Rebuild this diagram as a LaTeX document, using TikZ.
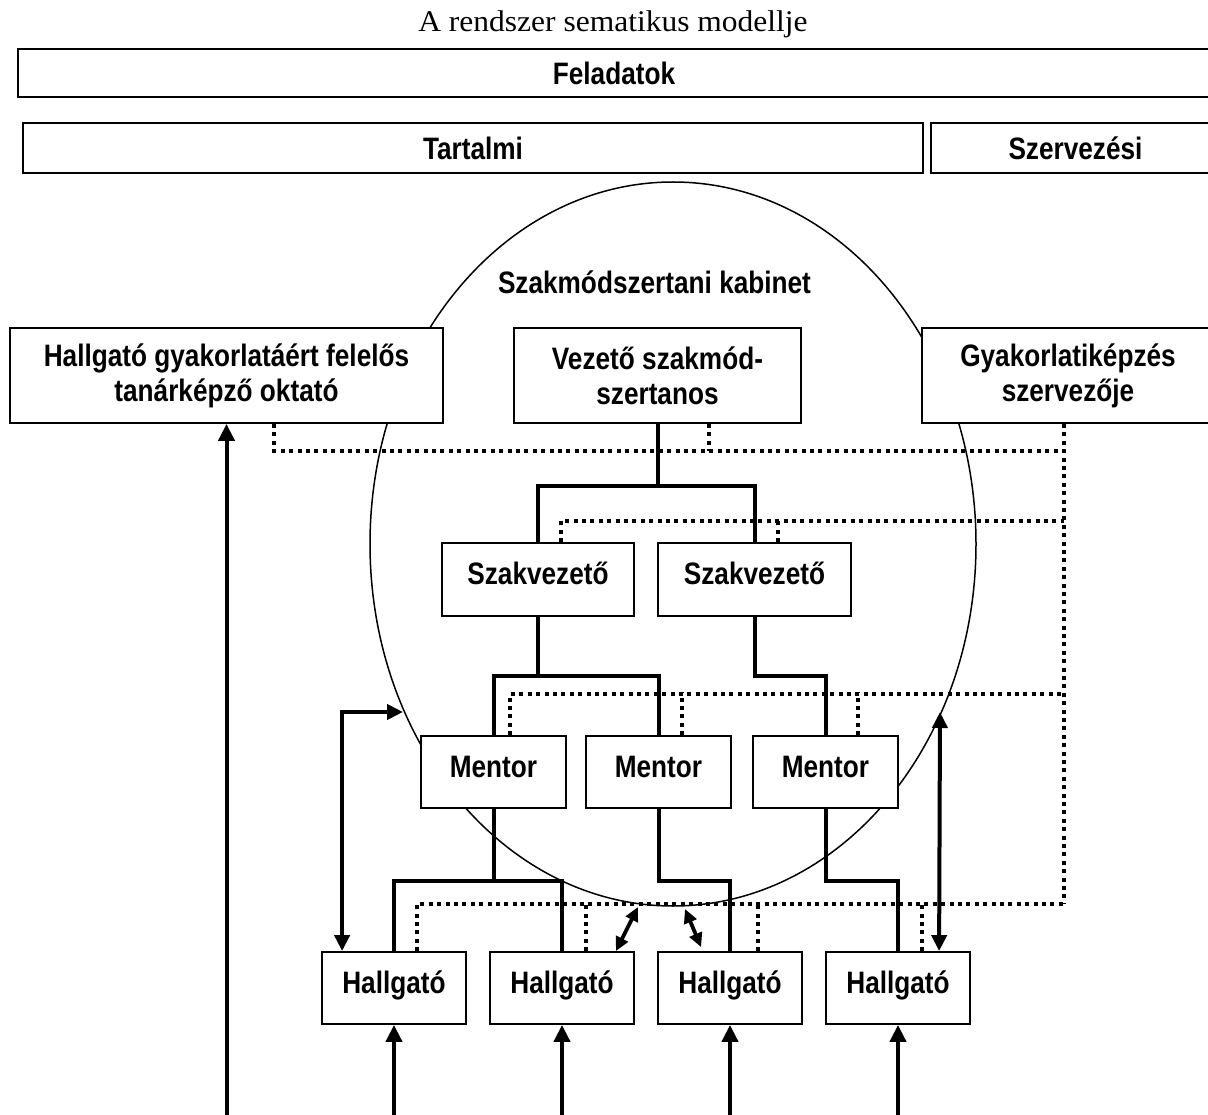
\documentclass[tikz,border=0pt]{standalone}
\usepackage{fontspec}
\setmainfont{Liberation Serif}
\newfontfamily\labfont{Liberation Sans}[FakeStretch=0.845]
\newfontfamily\titfont{Liberation Serif}[FakeStretch=1.05]
\usetikzlibrary{arrows.meta,calc}
\begin{document}
\begin{tikzpicture}[x=1pt,y=-1pt,
  lab/.style={font=\labfont\bfseries\fontsize{31pt}{35pt}\selectfont},
  box/.style={lab,draw,line width=1.8pt,fill=white,inner sep=0pt,align=center},
  topbox/.style={lab,draw,line width=2.6pt,fill=white,inner sep=0pt},
  one/.style={text height=22pt,text depth=12pt},
  tree/.style={line width=4pt},
  dots/.style={line width=3.6pt,dash pattern=on 4pt off 4.4pt},
  arr/.style={line width=4pt,-{Triangle[length=17pt,width=16pt]}},
  dbl/.style={line width=4pt,{Triangle[length=16pt,width=15pt]}-{Triangle[length=16pt,width=15pt]}},
  sdbl/.style={line width=3.8pt,{Triangle[length=14pt,width=13pt]}-{Triangle[length=14pt,width=13pt]}}]
\useasboundingbox (0,0) rectangle (1208,1115);

\node[font=\titfont\fontsize{30pt}{34pt}\selectfont,anchor=base,inner sep=0pt] (title) at (613,32) {A rendszer sematikus modellje};

\node[topbox,minimum width=1192,minimum height=48] (fel) at (614,73) {Feladatok};
\node[topbox,minimum width=900,minimum height=50] (tar) at (473,148) {Tartalmi};
\node[topbox,minimum width=289,minimum height=50] (szerv) at (1075.5,148) {Szervezési};

% kabinet
\draw[line width=1.5pt] (673,544) ellipse [x radius=303, y radius=362];
\node[lab] (kab) at (654.5,282) {Szakmódszertani kabinet};

\node[box,minimum width=433,minimum height=95] (hf) at (226.5,375.5) {Hallgató gyakorlatáért felelős\\tanárképző oktató};
\node[box,minimum width=287,minimum height=95] (vez) at (657.5,375.5) {Vezető szakmód-\\szertanos};
\node[box,minimum width=292,minimum height=95] (gysz) at (1068,375.5) {Gyakorlatiképzés\\szervezője};

\node[box,one,minimum width=192,minimum height=73] (sv1) at (538,579.5) {Szakvezető};
\node[box,one,minimum width=193,minimum height=73] (sv2) at (754.5,579.5) {Szakvezető};

\node[box,one,minimum width=145,minimum height=72] (m1) at (493.5,772) {Mentor};
\node[box,one,minimum width=145,minimum height=72] (m2) at (658.5,772) {Mentor};
\node[box,one,minimum width=145,minimum height=72] (m3) at (825.5,772) {Mentor};

\node[box,one,minimum width=144,minimum height=72] (h1) at (394,988) {Hallgató};
\node[box,one,minimum width=144,minimum height=72] (h2) at (562,988) {Hallgató};
\node[box,one,minimum width=144,minimum height=72] (h3) at (730,988) {Hallgató};
\node[box,one,minimum width=144,minimum height=72] (h4) at (898,988) {Hallgató};

% tree
\draw[tree] (vez.south) -- ++(0,62);
\draw[tree] (sv1.north) |- ($(vez.south)+(0,62)$) -| (sv2.north);
\draw[tree] (sv1.south) -- ++(0,59);
\draw[tree] (m1.north) |- ($(sv1.south)+(0,59)$) -| (m2.north);
\draw[tree] (sv2.south) -- ++(0,59) -| (m3.north);
\draw[tree] (m1.south) -- ++(0,72);
\draw[tree] (h1.north) |- ($(m1.south)+(0,72)$) -| (h2.north);
\draw[tree] (m2.south) -- ++(0,72) -| (h3.north);
\draw[tree] (m3.south) -- ++(0,72) -| (h4.north);

% dotted organisation lines
\draw[dots] ($(gysz.south west)+(143,0)$) -- ++(0,480);
\draw[dots] ($(hf.south west)+(265,0)$) |- ($(gysz.south west)+(143,27)$);
\draw[dots] ($(vez.south west)+(196,0)$) -- ++(0,27);
\draw[dots] ($(sv1.north west)+(120,0)$) |- ($(gysz.south west)+(143,97)$);
\draw[dots] ($(sv2.north west)+(121,0)$) -- ++(0,-23);
\draw[dots] ($(m1.north west)+(90,0)$) |- ($(gysz.south west)+(143,270)$);
\draw[dots] ($(m2.north west)+(97,0)$) -- ++(0,-43);
\draw[dots] ($(m3.north west)+(106,0)$) -- ++(0,-43);
\draw[dots] ($(h1.north west)+(96,0)$) |- ($(gysz.south west)+(143,480)$);
\draw[dots] ($(h2.north west)+(97,0)$) -- ++(0,-49);
\draw[dots] ($(h3.north west)+(101,0)$) -- ++(0,-49);
\draw[dots] ($(h4.north west)+(97,0)$) -- ++(0,-49);

% arrows
\draw[arr] ($(hf.south)+(0,700)$) -- (hf.south);
\foreach \h in {h1,h2,h3,h4} {\draw[arr] ($(\h.south)+(0,100)$) -- (\h.south);}
\coordinate (lt) at (403,712);
\draw[dbl] (lt) -| ($(h1.north west)+(21,0)$);
\coordinate (rt) at (940,712);
\draw[dbl] (rt) -- ($(h4.north west)+(114,0)$);
\coordinate (d1) at (638,907);
\draw[sdbl] ($(h2.north east)+(-19,0)$) -- (d1);
\coordinate (d2) at (685,909);
\draw[sdbl] (d2) -- ($(h3.north west)+(44,-4)$);
\end{tikzpicture}
\end{document}
